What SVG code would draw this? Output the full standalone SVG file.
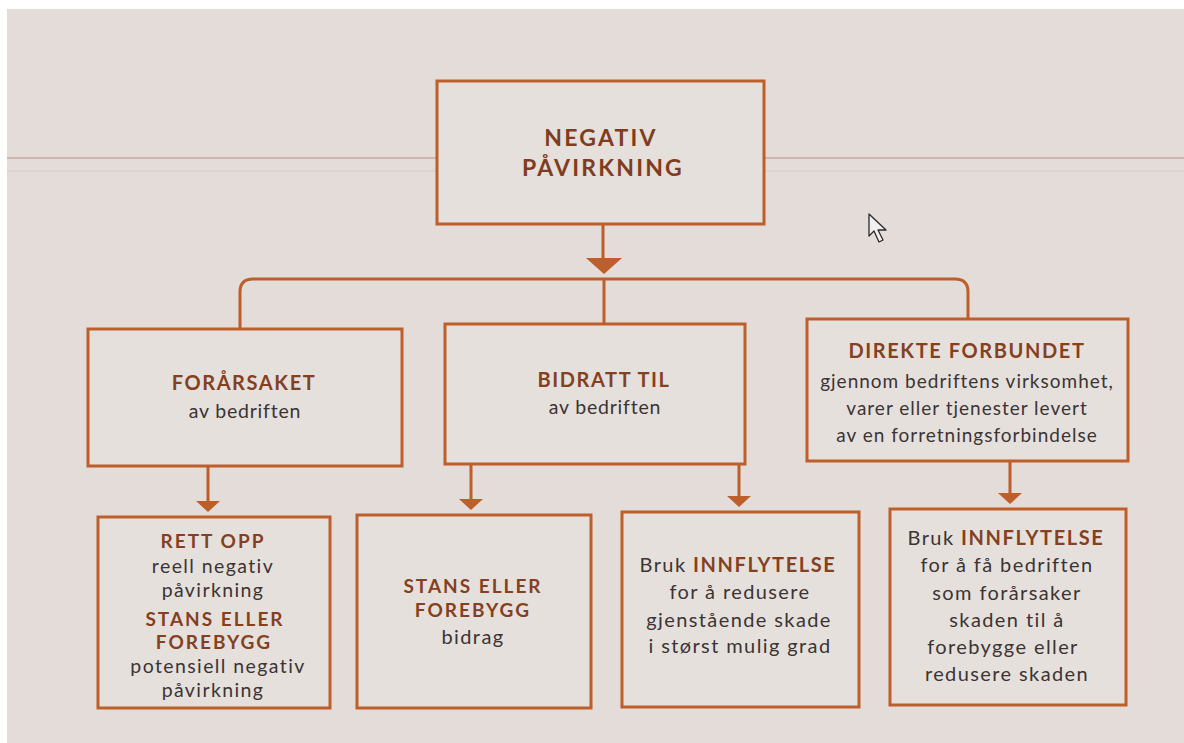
<svg xmlns="http://www.w3.org/2000/svg" width="1184" height="743" viewBox="0 0 1184 743">
<style>
.box{fill:#e6e0dc;stroke:#bd5f2a;stroke-width:3}
.con{fill:none;stroke:#bd5f2a;stroke-width:3}
.head{fill:#bd5f2a}
text{font-family:Lato,"Open Sans","Liberation Sans",sans-serif;text-anchor:middle}
.t{font-weight:bold;fill:#84401f;font-size:20px;letter-spacing:1.6px}
.ts{font-weight:bold;fill:#84401f;font-size:19px;letter-spacing:2px}
.b{fill:#3b3434;font-size:20px;letter-spacing:1.4px}
.bs{fill:#3b3434;font-size:19px;letter-spacing:1px}
.ba{fill:#3b3434;font-size:19.5px;letter-spacing:0.8px}
.bd{fill:#3b3434;font-size:19.5px;letter-spacing:1.4px}
.big{font-weight:bold;fill:#7e3d20;font-size:23px;letter-spacing:2.2px}
</style>
<rect x="0" y="0" width="1184" height="743" fill="#ffffff"/>
<rect x="7" y="9" width="1177" height="734" fill="#e3dcd8"/>
<line x1="7" y1="158" x2="1184" y2="158" stroke="#c9a9a8" stroke-width="1.5"/>
<line x1="7" y1="171" x2="1184" y2="171" stroke="#d6cac6" stroke-width="1"/>

<g id="connectors">
<path class="con" d="M603,224 V260"/>
<path class="head" d="M586,258 H622 L604,274 Z"/>
<path class="con" d="M240,330 V292 Q240,279 253,279 H955 Q968,279 968,292 V318"/>
<path class="con" d="M604,279 V323"/>
<path class="con" d="M208,467 V503"/>
<path class="head" d="M196,501 H220 L208,512 Z"/>
<path class="con" d="M471,465 V501"/>
<path class="head" d="M459,499 H483 L471,510 Z"/>
<path class="con" d="M739,465 V498"/>
<path class="head" d="M727,496 H751 L739,507 Z"/>
<path class="con" d="M1010,462 V495"/>
<path class="head" d="M998,493 H1022 L1010,504 Z"/>
</g>

<g id="negativ">
<rect class="box" x="437" y="81" width="327" height="143"/>
<text class="big" x="601" y="146">NEGATIV</text>
<text class="big" x="603" y="176">PÅVIRKNING</text>
</g>

<g id="forarsaket">
<rect class="box" x="88" y="329" width="314" height="137"/>
<text class="t" x="244" y="390">FORÅRSAKET</text>
<text class="ba" x="245" y="418">av bedriften</text>
</g>

<g id="bidratt">
<rect class="box" x="445" y="324" width="300" height="140"/>
<text class="t" x="604" y="387">BIDRATT TIL</text>
<text class="ba" x="605" y="414">av bedriften</text>
</g>

<g id="direkte">
<rect class="box" x="807" y="319" width="321" height="142"/>
<text class="t" x="967" y="358">DIREKTE FORBUNDET</text>
<text class="bs" x="967" y="388">gjennom bedriftens virksomhet,</text>
<text class="bs" x="967" y="415">varer eller tjenester levert</text>
<text class="bs" x="967" y="442">av en forretningsforbindelse</text>
</g>

<g id="rett-opp">
<rect class="box" x="98" y="517" width="232" height="191"/>
<text class="ts" x="213" y="548">RETT OPP</text>
<text class="bd" x="213" y="573">reell negativ</text>
<text class="bd" x="213" y="597">påvirkning</text>
<text class="ts" x="215" y="626">STANS ELLER</text>
<text class="ts" x="214" y="649">FOREBYGG</text>
<text class="bd" x="218" y="673">potensiell negativ</text>
<text class="bd" x="213" y="697">påvirkning</text>
</g>

<g id="stans">
<rect class="box" x="357" y="515" width="234" height="193"/>
<text class="ts" x="473" y="593">STANS ELLER</text>
<text class="ts" x="473" y="617">FOREBYGG</text>
<text class="b" x="473" y="644">bidrag</text>
</g>

<g id="innflytelse-1">
<rect class="box" x="622" y="512" width="237" height="195"/>
<text class="b" x="738" y="572">Bruk <tspan class="t">INNFLYTELSE</tspan></text>
<text class="b" x="740" y="599">for å redusere</text>
<text class="b" x="739" y="627">gjenstående skade</text>
<text class="b" x="740" y="653">i størst mulig grad</text>
</g>

<g id="innflytelse-2">
<rect class="box" x="890" y="509" width="236" height="196"/>
<text class="b" x="1006" y="545">Bruk <tspan class="t">INNFLYTELSE</tspan></text>
<text class="b" x="1007" y="572">for å få bedriften</text>
<text class="b" x="1007" y="600">som forårsaker</text>
<text class="b" x="1007" y="627">skaden til å</text>
<text class="b" x="1003" y="654">forebygge eller</text>
<text class="b" x="1007" y="681">redusere skaden</text>
</g>

<g id="cursor">
<path d="M869,214 V236 L874,231 L879,242 L883,240 L878,230 L886,230 Z" fill="#f2efee" stroke="#2a2a2a" stroke-width="1.3" stroke-linejoin="round"/>
</g>
</svg>
